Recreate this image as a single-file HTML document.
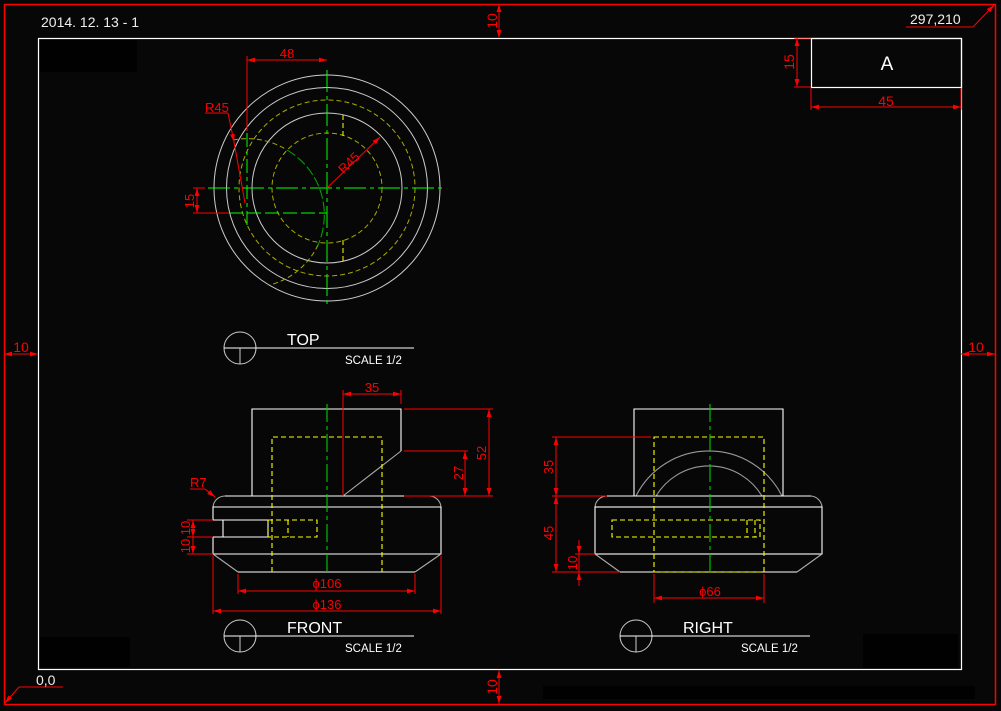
<!DOCTYPE html>
<html><head><meta charset="utf-8"><style>
html,body{margin:0;padding:0;background:#070707;}
svg{display:block;}
text{font-family:"Liberation Sans",sans-serif;}
</style></head><body>
<svg width="1001" height="711" viewBox="0 0 1001 711" xmlns="http://www.w3.org/2000/svg">
<defs>
<marker id="a" viewBox="0 0 10 6" refX="10" refY="3" markerWidth="8" markerHeight="5" orient="auto-start-reverse" markerUnits="userSpaceOnUse"><path d="M0,0 L10,3 L0,6 z" fill="#f00"/></marker>
</defs>
<rect width="1001" height="711" fill="#070707"/>
<rect x="40" y="40" width="97" height="32" fill="#010101"/>
<rect x="40" y="637" width="90" height="30" fill="#010101"/>
<rect x="863" y="634" width="95" height="34" fill="#010101"/>
<rect x="543" y="686" width="432" height="13" fill="#010101"/>
<rect x="4.5" y="4.5" width="991" height="700" fill="none" stroke="#f00" stroke-width="1.5"/>
<rect x="38.5" y="38.5" width="923" height="631" fill="none" stroke="#fff" stroke-width="1.2"/>
<rect x="811.5" y="38.5" width="150" height="49" fill="none" stroke="#fff" stroke-width="1.2"/>
<text x="887" y="70" fill="#fff" font-size="19" text-anchor="middle">A</text>
<g stroke="#f00" stroke-width="1" fill="none">
<line x1="811" y1="88" x2="811" y2="110"/><line x1="961" y1="88" x2="961" y2="110"/>
<line x1="811" y1="107" x2="961" y2="107" marker-start="url(#a)" marker-end="url(#a)"/>
<line x1="794" y1="38" x2="811" y2="38"/><line x1="794" y1="87" x2="811" y2="87"/>
<line x1="797" y1="38" x2="797" y2="87" marker-start="url(#a)" marker-end="url(#a)"/>
<line x1="499" y1="4" x2="499" y2="38" marker-start="url(#a)" marker-end="url(#a)"/>
<line x1="499" y1="670" x2="499" y2="704" marker-start="url(#a)" marker-end="url(#a)"/>
<line x1="4" y1="354" x2="38" y2="354" marker-start="url(#a)" marker-end="url(#a)"/>
<line x1="961" y1="354" x2="995" y2="354" marker-start="url(#a)" marker-end="url(#a)"/>
<line x1="906" y1="27" x2="973" y2="27"/><line x1="973" y1="27" x2="994" y2="5" marker-end="url(#a)"/>
<line x1="19" y1="687" x2="63" y2="687"/><line x1="19" y1="687" x2="5" y2="703" marker-end="url(#a)"/>
</g>
<g fill="#f00" font-size="14">
<text x="886" y="106" text-anchor="middle">45</text>
<text transform="translate(794,62) rotate(-90)" text-anchor="middle">15</text>
<text transform="translate(497,21) rotate(-90)" text-anchor="middle">10</text>
<text transform="translate(497,687) rotate(-90)" text-anchor="middle">10</text>
<text x="21" y="352" text-anchor="middle">10</text>
<text x="976" y="352" text-anchor="middle">10</text>
</g>
<g fill="#eee" font-size="14">
<text x="41" y="27">2014. 12. 13 - 1</text>
<text x="910" y="24">297,210</text>
<text x="36" y="685">0,0</text>
</g>

<!-- TOP VIEW -->
<g fill="none" stroke-width="1">
<circle cx="327" cy="188" r="113" stroke="#ccc"/>
<circle cx="327" cy="188" r="100.5" stroke="#ccc"/>
<circle cx="327" cy="188" r="75" stroke="#ccc"/>
<circle cx="327" cy="188" r="88" stroke="#aa0" stroke-dasharray="5,3"/>
<circle cx="327" cy="188" r="55" stroke="#aa0" stroke-dasharray="5,3"/>
<path d="M233,140 A75,75 0 0 1 287,150" stroke="#aa0" stroke-dasharray="5,3"/>
<path d="M287,150 A75,75 0 0 1 318,245" stroke="#0a0" stroke-dasharray="10,3"/>
<path d="M318,245 A75,75 0 0 1 270,285" stroke="#aa0" stroke-dasharray="5,3"/>
<line x1="343" y1="115" x2="343" y2="137" stroke="#ff0" stroke-dasharray="5,3"/>
<line x1="343" y1="240" x2="343" y2="262" stroke="#ff0" stroke-dasharray="5,3"/>
<g stroke="#0f0">
<line x1="208" y1="188" x2="446" y2="188" stroke-dasharray="22,4,4,4"/>
<line x1="327" y1="70" x2="327" y2="307" stroke-dasharray="22,4,4,4"/>
<line x1="247" y1="133" x2="247" y2="228" stroke-dasharray="14,4,4,4"/>
<line x1="229" y1="213" x2="327" y2="213" stroke-dasharray="14,4"/>
</g>
<g stroke="#f00">
<line x1="247" y1="56" x2="247" y2="131"/>
<line x1="247" y1="60" x2="327" y2="60" marker-start="url(#a)" marker-end="url(#a)"/>
<line x1="193" y1="188" x2="205" y2="188"/>
<line x1="193" y1="213" x2="229" y2="213"/>
<line x1="197" y1="188" x2="197" y2="213" marker-start="url(#a)" marker-end="url(#a)"/>
<line x1="205" y1="113" x2="228" y2="113"/>
<line x1="228" y1="113" x2="234" y2="142" marker-end="url(#a)"/>
<line x1="234" y1="142" x2="245" y2="203"/>
<line x1="327" y1="188" x2="380" y2="137" marker-end="url(#a)"/>
</g>
</g>
<g fill="#f00" font-size="13">
<text x="287" y="58" text-anchor="middle">48</text>
<text x="205" y="112">R45</text>
<text transform="translate(352,166) rotate(-44)" text-anchor="middle">R45</text>
<text transform="translate(194,201) rotate(-90)" text-anchor="middle">15</text>
</g>
<g fill="none" stroke="#ccc"><circle cx="240" cy="348" r="16"/><line x1="224" y1="348" x2="414" y2="348" stroke="#fff"/><line x1="240" y1="348" x2="240" y2="364"/></g>
<text x="287" y="345" fill="#fff" font-size="16">TOP</text>
<text x="345" y="364" fill="#fff" font-size="11.5">SCALE 1/2</text>

<!-- FRONT VIEW -->
<g fill="none" stroke-width="1.1">
<path d="M252,496 V409 H401 V451" stroke="#fff"/>
<line x1="401" y1="451" x2="343" y2="496" stroke="#aaa"/>
<line x1="225" y1="496" x2="429" y2="496" stroke="#fff"/>
<path d="M225,496 A12,12 0 0 0 213,507" stroke="#aaa"/>
<path d="M429,496 A12,12 0 0 1 441,507" stroke="#aaa"/>
<path d="M213,520 V507 H441 V554 H213 V537" stroke="#fff"/>
<path d="M213,520 H268 V537 H213 M223,520 V537" stroke="#fff"/>
<line x1="213" y1="554" x2="238" y2="572" stroke="#aaa"/>
<line x1="441" y1="554" x2="415" y2="572" stroke="#aaa"/>
<line x1="238" y1="572" x2="415" y2="572" stroke="#fff"/>
<g stroke="#ff0" stroke-dasharray="5,3">
<path d="M272,572 V437 H382 V572"/>
<rect x="268" y="520" width="49" height="17"/>
<line x1="288" y1="520" x2="288" y2="537"/>
</g>
<line x1="327" y1="404" x2="327" y2="576" stroke="#0c0" stroke-dasharray="18,4,4,4"/>
<g stroke="#f00" stroke-width="1">
<line x1="343" y1="390" x2="343" y2="496"/><line x1="401" y1="390" x2="401" y2="404"/>
<line x1="343" y1="394" x2="401" y2="394" marker-start="url(#a)" marker-end="url(#a)"/>
<line x1="404" y1="409" x2="493" y2="409"/><line x1="404" y1="496" x2="493" y2="496"/>
<line x1="489" y1="409" x2="489" y2="496" marker-start="url(#a)" marker-end="url(#a)"/>
<line x1="404" y1="451" x2="468" y2="451"/><line x1="465" y1="451" x2="465" y2="496" marker-start="url(#a)" marker-end="url(#a)"/>
<line x1="238" y1="574" x2="238" y2="594"/><line x1="415" y1="574" x2="415" y2="594"/>
<line x1="238" y1="591" x2="415" y2="591" marker-start="url(#a)" marker-end="url(#a)"/>
<line x1="213" y1="556" x2="213" y2="614"/><line x1="441" y1="556" x2="441" y2="614"/>
<line x1="213" y1="611" x2="441" y2="611" marker-start="url(#a)" marker-end="url(#a)"/>
<line x1="187" y1="520" x2="213" y2="520"/><line x1="187" y1="537" x2="213" y2="537"/><line x1="187" y1="554" x2="213" y2="554"/>
<line x1="193" y1="520" x2="193" y2="537" marker-start="url(#a)" marker-end="url(#a)"/>
<line x1="193" y1="537" x2="193" y2="554" marker-end="url(#a)"/>
<line x1="190" y1="489" x2="205" y2="489"/><line x1="205" y1="489" x2="215" y2="497" marker-end="url(#a)"/>
</g>
</g>
<g fill="#f00" font-size="13">
<text x="372" y="392" text-anchor="middle">35</text>
<text transform="translate(486,453) rotate(-90)" text-anchor="middle">52</text>
<text transform="translate(463,473) rotate(-90)" text-anchor="middle">27</text>
<text x="327" y="588" text-anchor="middle">ϕ106</text>
<text x="327" y="609" text-anchor="middle">ϕ136</text>
<text transform="translate(190,537) rotate(-90)" text-anchor="middle">10,10</text>
<text x="190" y="487">R7</text>
</g>
<g fill="none" stroke="#ccc"><circle cx="240" cy="636" r="16"/><line x1="224" y1="636" x2="414" y2="636" stroke="#fff"/><line x1="240" y1="636" x2="240" y2="652"/></g>
<text x="287" y="633" fill="#fff" font-size="16">FRONT</text>
<text x="345" y="652" fill="#fff" font-size="11.5">SCALE 1/2</text>

<!-- RIGHT VIEW -->
<g fill="none" stroke-width="1.1">
<path d="M634,496 V409 H783 V496" stroke="#fff"/>
<path d="M636,496 A81.7,81.7 0 0 1 782,496" stroke="#999"/>
<path d="M656,496 A61.8,61.8 0 0 1 762,496" stroke="#999"/>
<line x1="607" y1="496" x2="811" y2="496" stroke="#fff"/>
<path d="M607,496 A12,12 0 0 0 595,507" stroke="#aaa"/>
<path d="M811,496 A12,12 0 0 1 822,507" stroke="#aaa"/>
<rect x="595" y="507" width="227" height="47" stroke="#fff"/>
<line x1="595" y1="554" x2="620" y2="572" stroke="#aaa"/>
<line x1="822" y1="554" x2="797" y2="572" stroke="#aaa"/>
<line x1="620" y1="572" x2="797" y2="572" stroke="#fff"/>
<g stroke="#ff0" stroke-dasharray="5,3">
<rect x="654" y="437" width="110" height="135"/>
<rect x="612" y="520" width="148" height="17"/>
<line x1="747" y1="520" x2="747" y2="537"/><line x1="755" y1="520" x2="755" y2="537"/>
</g>
<line x1="710" y1="404" x2="710" y2="576" stroke="#0c0" stroke-dasharray="18,4,4,4"/>
<g stroke="#f00" stroke-width="1">
<line x1="552" y1="437" x2="651" y2="437"/><line x1="552" y1="496" x2="607" y2="496"/>
<line x1="552" y1="572" x2="620" y2="572"/>
<line x1="556" y1="437" x2="556" y2="496" marker-start="url(#a)" marker-end="url(#a)"/>
<line x1="556" y1="496" x2="556" y2="572" marker-start="url(#a)" marker-end="url(#a)"/>
<line x1="575" y1="554" x2="595" y2="554"/>
<line x1="579" y1="540" x2="579" y2="554" marker-end="url(#a)"/>
<line x1="579" y1="586" x2="579" y2="572" marker-end="url(#a)"/>
<line x1="579" y1="554" x2="579" y2="572"/>
<line x1="654" y1="574" x2="654" y2="603"/><line x1="764" y1="574" x2="764" y2="603"/>
<line x1="654" y1="598" x2="764" y2="598" marker-start="url(#a)" marker-end="url(#a)"/>
</g>
</g>
<g fill="#f00" font-size="13">
<text transform="translate(553,467) rotate(-90)" text-anchor="middle">35</text>
<text transform="translate(553,533) rotate(-90)" text-anchor="middle">45</text>
<text transform="translate(577,563) rotate(-90)" text-anchor="middle">10</text>
<text x="710" y="596" text-anchor="middle">ϕ66</text>
</g>
<g fill="none" stroke="#ccc"><circle cx="636" cy="636" r="16"/><line x1="620" y1="636" x2="810" y2="636" stroke="#fff"/><line x1="636" y1="636" x2="636" y2="652"/></g>
<text x="683" y="633" fill="#fff" font-size="16">RIGHT</text>
<text x="741" y="652" fill="#fff" font-size="11.5">SCALE 1/2</text>
</svg>
</body></html>
